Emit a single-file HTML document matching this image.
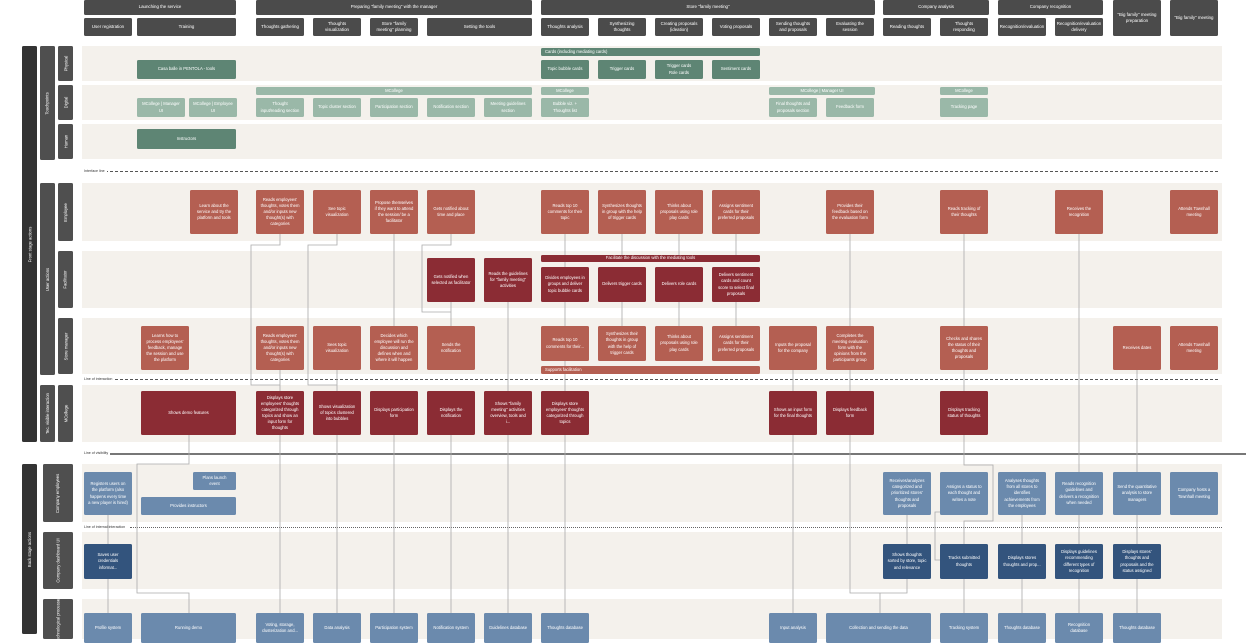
<!DOCTYPE html>
<html><head><meta charset="utf-8"><style>
*{margin:0;padding:0;box-sizing:border-box}
body{width:1246px;height:628px;overflow:hidden;background:#fff;font-family:"Liberation Sans",sans-serif;position:relative}
.a{position:absolute}
.ln{position:absolute;background:#f4f1ec;left:82px;width:1140px}
.c{position:absolute;display:flex;align-items:center;justify-content:center;text-align:center;color:#fff;font-size:4.2px;line-height:1.45;padding:0 4px;border-radius:1.5px;width:48px}
.h{background:#4b4b4b;font-size:4.4px}
.pg{background:#5e8574}.lg{background:#9ab8a8}
.e{background:#b45f52}.f{background:#8b2c34}
.b{background:#6b8aad}.d{background:#33547d}
.v{position:absolute;display:flex;align-items:center;justify-content:center;color:#fff;font-size:4.2px;border-radius:1.5px}
.v span{transform:rotate(-90deg);white-space:nowrap}
.lab{position:absolute;font-size:3.6px;color:#333;background:#fff;padding-right:2px}
</style></head><body>
<!-- lanes -->
<div class="ln" style="top:46px;height:35px"></div>
<div class="ln" style="top:85px;height:35px"></div>
<div class="ln" style="top:124px;height:35px"></div>
<div class="ln" style="top:183px;height:58px"></div>
<div class="ln" style="top:251px;height:57px"></div>
<div class="ln" style="top:318px;height:56px"></div>
<div class="ln" style="top:385px;height:57px"></div>
<div class="ln" style="top:464px;height:58px"></div>
<div class="ln" style="top:532px;height:57px"></div>
<div class="ln" style="top:599px;height:40px"></div>

<!-- dividing lines -->
<div class="a" style="left:100px;top:171px;width:1118px;border-top:1px dashed #555"></div>
<div class="lab" style="left:84px;top:169px">Interface line</div>
<div class="a" style="left:100px;top:379px;width:1118px;border-top:1px dashed #555"></div>
<div class="lab" style="left:84px;top:377px">Line of interaction</div>
<div class="a" style="left:110px;top:453px;width:1136px;border-top:2px solid #777"></div>
<div class="lab" style="left:84px;top:451px">Line of visibility</div>
<div class="a" style="left:130px;top:527px;width:1092px;border-top:1.5px dotted #666"></div>
<div class="lab" style="left:84px;top:525px">Line of internal interaction</div>

<!-- connectors -->
<svg class="a" style="left:0;top:0" width="1246" height="628" fill="none" stroke="#aaa" stroke-width="0.8">
<path d="M565 234V267M565 302V326M565 361V391M565 435V613"/>
<path d="M622 234V255M622 302V326M679 234V255M679 302V326M736 234V255M736 302V326"/>
<path d="M280 234V245H251V385H280M280 370V391M280 435V613"/>
<path d="M337 234V245H308V385H337M337 370V391M337 435V613"/>
<path d="M394 234V326M394 435V613"/>
<path d="M451 234V245H422V312H451M451 302V326M451 435V613"/>
<path d="M508 302V391M508 435V613"/>
<path d="M793 370V391M793 435V613"/>
<path d="M850 234V326M850 370V391M850 435V593H907V579M880 593V613"/>
<path d="M964 234V326M964 370V391M964 435V465H993V521H964V544M964 579V613M940 512H935V560H940"/>
<path d="M1079 234V472M1137 370V472"/>
<path d="M907 515V544M1022 515V544M1022 579V613M1079 515V544M1079 579V613M1137 515V544M1137 579V613"/>
<path d="M108 515V544M108 579V613"/>
<path d="M189 435V464H137V593H189V613"/>
</svg>

<!-- headers -->
<div class="c h" style="left:84px;top:0;width:152px;height:15px">Launching the service</div>
<div class="c h" style="left:256px;top:0;width:276px;height:15px">Preparing "family meeting" with the manager</div>
<div class="c h" style="left:541px;top:0;width:334px;height:15px">Store "family meeting"</div>
<div class="c h" style="left:883px;top:0;width:106px;height:15px">Company analysis</div>
<div class="c h" style="left:998px;top:0;width:105px;height:15px">Company recognition</div>
<div class="c h" style="left:1113px;top:0;height:36px">"Big family" meeting preparation</div>
<div class="c h" style="left:1170px;top:0;height:36px">"Big family" meeting</div>
<div class="c h" style="left:84px;top:18px;height:18px">User registration</div>
<div class="c h" style="left:137px;top:18px;width:99px;height:18px">Training</div>
<div class="c h" style="left:256px;top:18px;height:18px">Thoughts gathering</div>
<div class="c h" style="left:313px;top:18px;height:18px">Thoughts visualization</div>
<div class="c h" style="left:370px;top:18px;height:18px">Store "family meeting" planning</div>
<div class="c h" style="left:427px;top:18px;width:105px;height:18px">Setting the tools</div>
<div class="c h" style="left:541px;top:18px;height:18px">Thoughts analysis</div>
<div class="c h" style="left:598px;top:18px;height:18px">Synthesizing thoughts</div>
<div class="c h" style="left:655px;top:18px;height:18px">Creating proposals (ideation)</div>
<div class="c h" style="left:712px;top:18px;height:18px">Voting proposals</div>
<div class="c h" style="left:769px;top:18px;height:18px">Sending thoughts and proposals</div>
<div class="c h" style="left:826px;top:18px;height:18px">Evaluating the session</div>
<div class="c h" style="left:883px;top:18px;height:18px">Reading thoughts</div>
<div class="c h" style="left:940px;top:18px;height:18px">Thoughts responding</div>
<div class="c h" style="left:998px;top:18px;height:18px">Recognition/evaluation</div>
<div class="c h" style="left:1055px;top:18px;height:18px">Recognition/evaluation delivery</div>

<!-- left labels -->
<div class="v" style="left:22px;top:46px;width:15px;height:396px;background:#333"><span>Front stage actions</span></div>
<div class="v" style="left:22px;top:464px;width:15px;height:170px;background:#333"><span>Back stage actions</span></div>
<div class="v" style="left:40px;top:46px;width:15px;height:114px;background:#4f4f4f"><span>Touchpoints</span></div>
<div class="v" style="left:40px;top:183px;width:15px;height:192px;background:#4f4f4f"><span>User actions</span></div>
<div class="v" style="left:40px;top:385px;width:15px;height:57px;background:#4f4f4f"><span>Tec. visible interaction</span></div>
<div class="v" style="left:58px;top:46px;width:15px;height:35px;background:#4f4f4f"><span>Physical</span></div>
<div class="v" style="left:58px;top:85px;width:15px;height:35px;background:#4f4f4f"><span>Digital</span></div>
<div class="v" style="left:58px;top:124px;width:15px;height:35px;background:#4f4f4f"><span>Human</span></div>
<div class="v" style="left:58px;top:183px;width:15px;height:58px;background:#4f4f4f"><span>Employee</span></div>
<div class="v" style="left:58px;top:251px;width:15px;height:57px;background:#4f4f4f"><span>Facilitator</span></div>
<div class="v" style="left:58px;top:318px;width:15px;height:56px;background:#4f4f4f"><span>Store manager</span></div>
<div class="v" style="left:58px;top:385px;width:15px;height:57px;background:#4f4f4f"><span>MCollege</span></div>
<div class="v" style="left:43px;top:464px;width:30px;height:58px;background:#4f4f4f"><span>Company employees</span></div>
<div class="v" style="left:43px;top:532px;width:30px;height:57px;background:#4f4f4f"><span>Company dashboard UI</span></div>
<div class="v" style="left:43px;top:599px;width:30px;height:40px;background:#4f4f4f"><span>Technological processes</span></div>

<!-- physical -->
<div class="c pg" style="left:541px;top:48px;width:219px;height:8px;justify-content:flex-start">Cards (including mediating cards)</div>
<div class="c pg" style="left:137px;top:60px;width:99px;height:19px">Casa balle in PENTOLA - tools</div>
<div class="c pg" style="left:541px;top:60px;height:19px">Topic bubble cards</div>
<div class="c pg" style="left:598px;top:60px;height:19px">Trigger cards</div>
<div class="c pg" style="left:655px;top:60px;height:19px">Trigger cards<br>Role cards</div>
<div class="c pg" style="left:712px;top:60px;height:19px">Sentiment cards</div>
<!-- digital -->
<div class="c lg" style="left:256px;top:87px;width:276px;height:8px">MCollege</div>
<div class="c lg" style="left:541px;top:87px;height:8px">MCollege</div>
<div class="c lg" style="left:769px;top:87px;width:106px;height:8px">MCollege | Manager UI</div>
<div class="c lg" style="left:940px;top:87px;height:8px">MCollege</div>
<div class="c lg" style="left:137px;top:98px;height:19px">MCollege | Manager UI</div>
<div class="c lg" style="left:189px;top:98px;height:19px">MCollege | Employee UI</div>
<div class="c lg" style="left:256px;top:98px;height:19px">Thought input/reading section</div>
<div class="c lg" style="left:313px;top:98px;height:19px">Topic cluster section</div>
<div class="c lg" style="left:370px;top:98px;height:19px">Participation section</div>
<div class="c lg" style="left:427px;top:98px;height:19px">Notification section</div>
<div class="c lg" style="left:484px;top:98px;height:19px">Meeting guidelines section</div>
<div class="c lg" style="left:541px;top:98px;height:19px">Bubble viz. + Thoughts list</div>
<div class="c lg" style="left:769px;top:98px;height:19px">Final thoughts and proposals section</div>
<div class="c lg" style="left:826px;top:98px;height:19px">Feedback form</div>
<div class="c lg" style="left:940px;top:98px;height:19px">Tracking page</div>
<!-- human -->
<div class="c pg" style="left:137px;top:129px;width:99px;height:20px">Instructors</div>

<!-- employee -->
<div class="c e" style="left:190px;top:190px;height:44px">Learn about the service and try the platform and tools</div>
<div class="c e" style="left:256px;top:190px;height:44px">Reads employees' thoughts, votes them and/or inputs new thought(s) with categories</div>
<div class="c e" style="left:313px;top:190px;height:44px">See topic visualization</div>
<div class="c e" style="left:370px;top:190px;height:44px">Propose themselves if they want to attend the session/ be a facilitator</div>
<div class="c e" style="left:427px;top:190px;height:44px">Gets notified about time and place</div>
<div class="c e" style="left:541px;top:190px;height:44px">Reads top 10 comments for their topic</div>
<div class="c e" style="left:598px;top:190px;height:44px">Synthesizes thoughts in group with the help of trigger cards</div>
<div class="c e" style="left:655px;top:190px;height:44px">Thinks about proposals using role play cards</div>
<div class="c e" style="left:712px;top:190px;height:44px">Assigns sentiment cards for their preferred proposals</div>
<div class="c e" style="left:826px;top:190px;height:44px">Provides their feedback based on the evaluation form</div>
<div class="c e" style="left:940px;top:190px;height:44px">Reads tracking of their thoughts</div>
<div class="c e" style="left:1055px;top:190px;height:44px">Receives the recognition</div>
<div class="c e" style="left:1170px;top:190px;height:44px">Attends Townhall meeting</div>

<!-- facilitator -->
<div class="c f" style="left:541px;top:255px;width:219px;height:7px">Facilitate the discussion with the mediating tools</div>
<div class="c f" style="left:427px;top:258px;height:44px">Gets notified when selected as facilitator</div>
<div class="c f" style="left:484px;top:258px;height:44px">Reads the guidelines for "family meeting" activities</div>
<div class="c f" style="left:541px;top:267px;height:35px">Divides employees in groups and deliver topic bubble cards</div>
<div class="c f" style="left:598px;top:267px;height:35px">Delivers trigger cards</div>
<div class="c f" style="left:655px;top:267px;height:35px">Delivers role cards</div>
<div class="c f" style="left:712px;top:267px;height:35px">Delivers sentiment cards and count score to select final proposals</div>

<!-- store manager -->
<div class="c e" style="left:141px;top:326px;height:44px">Learns how to process employees' feedback, manage the session and use the platform</div>
<div class="c e" style="left:256px;top:326px;height:44px">Reads employees' thoughts, votes them and/or inputs new thought(s) with categories</div>
<div class="c e" style="left:313px;top:326px;height:44px">Sees topic visualization</div>
<div class="c e" style="left:370px;top:326px;height:44px">Decides which employee will run the discussion and defines when and where it will happen</div>
<div class="c e" style="left:427px;top:326px;height:44px">Sends the notification</div>
<div class="c e" style="left:541px;top:326px;height:35px">Reads top 10 comments for their...</div>
<div class="c e" style="left:598px;top:326px;height:35px">Synthesizes their thoughts in group with the help of trigger cards</div>
<div class="c e" style="left:655px;top:326px;height:35px">Thinks about proposals using role play cards</div>
<div class="c e" style="left:712px;top:326px;height:35px">Assigns sentiment cards for their preferred proposals</div>
<div class="c e" style="left:541px;top:366px;width:219px;height:8px;justify-content:flex-start">Supports facilitation</div>
<div class="c e" style="left:769px;top:326px;height:44px">Inputs the proposal for the company</div>
<div class="c e" style="left:826px;top:326px;height:44px">Completes the meeting evaluation form with the opinions from the participants group</div>
<div class="c e" style="left:940px;top:326px;height:44px">Checks and shares the status of their thoughts and proposals</div>
<div class="c e" style="left:1113px;top:326px;height:44px">Receives dates</div>
<div class="c e" style="left:1170px;top:326px;height:44px">Attends Townhall meeting</div>

<!-- tech visible -->
<div class="c f" style="left:141px;top:391px;width:95px;height:44px">Shows demo features</div>
<div class="c f" style="left:256px;top:391px;height:44px">Displays store employees' thoughts categorized through topics and show an input form for thoughts</div>
<div class="c f" style="left:313px;top:391px;height:44px">Shows visualization of topics clustered into bubbles</div>
<div class="c f" style="left:370px;top:391px;height:44px">Displays participation form</div>
<div class="c f" style="left:427px;top:391px;height:44px">Displays the notification</div>
<div class="c f" style="left:484px;top:391px;height:44px">Shows "family meeting" activities overview, tools and i...</div>
<div class="c f" style="left:541px;top:391px;height:44px">Displays store employees' thoughts categorized through topics</div>
<div class="c f" style="left:769px;top:391px;height:44px">Shows an input form for the final thoughts</div>
<div class="c f" style="left:826px;top:391px;height:44px">Displays feedback form</div>
<div class="c f" style="left:940px;top:391px;height:44px">Displays tracking status of thoughts</div>

<!-- company employees -->
<div class="c b" style="left:84px;top:472px;height:43px">Registers users on the platform (also happens every time a new player is hired)</div>
<div class="c b" style="left:193px;top:472px;width:43px;height:18px">Plans launch event</div>
<div class="c b" style="left:141px;top:497px;width:95px;height:18px">Provides instructors</div>
<div class="c b" style="left:883px;top:472px;height:43px">Receives/analyzes categorized and prioritized stores' thoughts and proposals</div>
<div class="c b" style="left:940px;top:472px;height:43px">Assigns a status to each thought and writes a note</div>
<div class="c b" style="left:998px;top:472px;height:43px">Analyses thoughts from all stores to identifies achievements from the employees</div>
<div class="c b" style="left:1055px;top:472px;height:43px">Reads recognition guidelines and delivers a recognition when needed</div>
<div class="c b" style="left:1113px;top:472px;height:43px">Send the quantitative analysis to store managers</div>
<div class="c b" style="left:1170px;top:472px;height:43px">Company hosts a Townhall meeting</div>

<!-- dashboard -->
<div class="c d" style="left:84px;top:544px;height:35px">Saves user credentials informat...</div>
<div class="c d" style="left:883px;top:544px;height:35px">Shows thoughts sorted by store, topic and relevance</div>
<div class="c d" style="left:940px;top:544px;height:35px">Tracks submitted thoughts</div>
<div class="c d" style="left:998px;top:544px;height:35px">Displays stores thoughts and prop...</div>
<div class="c d" style="left:1055px;top:544px;height:35px">Displays guidelines recommending different types of recognition</div>
<div class="c d" style="left:1113px;top:544px;height:35px">Displays stores' thoughts and proposals and the status assigned</div>

<!-- tech processes -->
<div class="c b" style="left:84px;top:613px;height:30px">Profile system</div>
<div class="c b" style="left:141px;top:613px;width:95px;height:30px">Running demo</div>
<div class="c b" style="left:256px;top:613px;height:30px">Voting, storage, clusterization and...</div>
<div class="c b" style="left:313px;top:613px;height:30px">Data analysis</div>
<div class="c b" style="left:370px;top:613px;height:30px">Participation system</div>
<div class="c b" style="left:427px;top:613px;height:30px">Notification system</div>
<div class="c b" style="left:484px;top:613px;height:30px">Guidelines database</div>
<div class="c b" style="left:541px;top:613px;height:30px">Thoughts database</div>
<div class="c b" style="left:769px;top:613px;height:30px">Input analysis</div>
<div class="c b" style="left:826px;top:613px;width:105px;height:30px">Collection and sending the data</div>
<div class="c b" style="left:940px;top:613px;height:30px">Tracking system</div>
<div class="c b" style="left:998px;top:613px;height:30px">Thoughts database</div>
<div class="c b" style="left:1055px;top:613px;height:30px">Recognition database</div>
<div class="c b" style="left:1113px;top:613px;height:30px">Thoughts database</div>
</body></html>
